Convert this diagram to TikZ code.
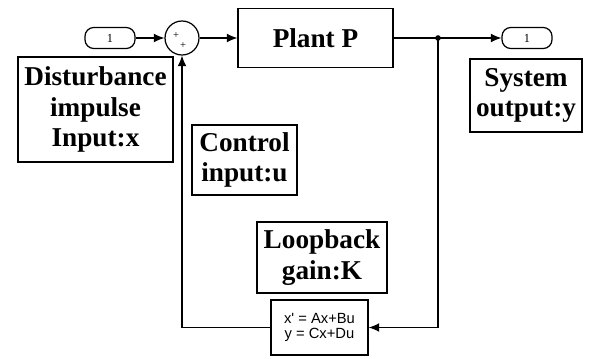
\documentclass[tikz,border=0pt]{standalone}
\usepackage{fontspec}
\setmainfont{Liberation Serif}
\newfontfamily\ssfont{Liberation Sans}
\usetikzlibrary{arrows.meta}

\tikzset{
  labelbox/.style={draw,line width=1.3pt,align=center,inner sep=0pt,
    font=\fontsize{15.5}{17.5}\selectfont\bfseries},
  block/.style={draw,line width=0.8pt,align=center,inner sep=0pt},
  port/.style={draw,line width=0.7pt,rounded corners=5pt,inner sep=0pt,
    minimum width=1cm,minimum height=0.42cm,font=\fontsize{7}{8}\selectfont},
  wire/.style={line width=0.6pt,-{Latex[length=6pt,width=5pt]}},
  plain/.style={line width=0.6pt}
}

\begin{document}
\begin{tikzpicture}[x=0.02cm,y=-0.02cm]
\useasboundingbox (0,0) rectangle (594,358);
\fill[white] (0,0) rectangle (594,358);

% signal blocks
\node[port] (inport) at (110,38) {1};
\node[draw,circle,line width=0.7pt,minimum size=0.68cm,inner sep=0pt] (sum) at (182,38) {};
\node[font=\fontsize{6}{6}\selectfont,inner sep=0pt] (sumin) at (176,36) {+};
\node[font=\fontsize{6}{6}\selectfont,inner sep=0pt] (sumfb) at (183,46) {+};
\node[block,minimum width=3.1cm,minimum height=1.18cm,
  font=\fontsize{15.5}{17}\selectfont\bfseries] (plant) at (315.5,38) {Plant P};
\coordinate (junc) at (438,38);
\node[port] (outport) at (527,38) {1};
\node[block,minimum width=1.94cm,minimum height=1.1cm,
  font=\fontsize{8.4}{9}\selectfont\ssfont] (statesp) at (319.5,327.5) {x' = Ax+Bu\\y = Cx+Du};

% label boxes
\node[labelbox,minimum width=3.1cm,minimum height=2.1cm] (dist) at (95.5,109.5) {Disturbance\\impulse\\Input:x};
\node[labelbox,minimum width=2.1cm,minimum height=1.4cm] (ctrl) at (244.5,160) {Control\\input:u};
\node[labelbox,minimum width=2.6cm,minimum height=1.42cm] (gain) at (322,257.5) {Loopback\\gain:K};
\node[labelbox,minimum width=2.24cm,minimum height=1.46cm] (sysout) at (526,95.5) {System\\output:y};

% connectors
\draw[wire] (inport) -- (sum);
\draw[wire] (sum) -- (plant);
\draw[plain] (plant) -- (junc);
\draw[wire] (junc) -- (outport);
\fill (junc) circle (1.6pt);
\draw[wire] (junc) |- (statesp);
\draw[wire] (statesp) -| (sum);
\end{tikzpicture}
\end{document}
